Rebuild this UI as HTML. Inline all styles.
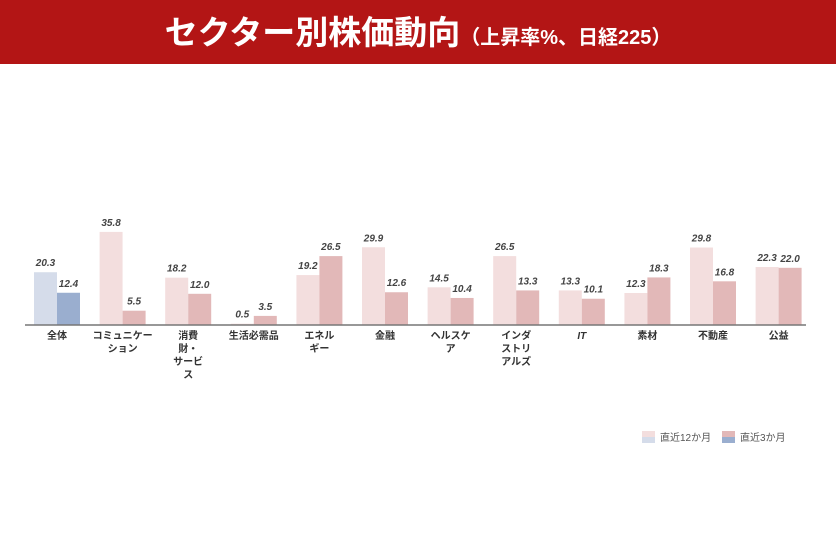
<!DOCTYPE html>
<html><head><meta charset="utf-8"><style>
body{margin:0;width:836px;height:545px;background:#fff;font-family:"Liberation Sans","Noto Sans CJK JP",sans-serif;overflow:hidden}
.hd{position:absolute;left:0;top:0;width:836px;height:64px;background:#b31515;color:#fff;text-align:center;line-height:66px;font-weight:bold;font-size:33px}
.hd small{font-size:20px}
</style></head><body>
<div class="hd">セクター別株価動向<small>（上昇率%、日経225）</small></div>
<svg width="836" height="545" style="position:absolute;left:0;top:0">
<g id="bars" font-family="Liberation Sans, Noto Sans CJK JP, sans-serif"></g>
<line x1="25" y1="325" x2="806" y2="325" stroke="#777" stroke-width="1.5"/>
<rect x="642" y="431" width="13" height="6" fill="#f3dede"/><rect x="642" y="437" width="13" height="6" fill="#d5dcea"/>
<text x="660" y="441" font-size="10" fill="#555">直近12か月</text>
<rect x="722" y="431" width="13" height="6" fill="#e2b8b8"/><rect x="722" y="437" width="13" height="6" fill="#9aaecf"/>
<text x="740" y="441" font-size="10" fill="#555">直近3か月</text>
</svg>
<script>
var d=[["全体",20.3,12.4],["コミュニケー|ション",35.8,5.5],["消費|財・|サービ|ス",18.2,12.0],["生活必需品",0.5,3.5],["エネル|ギー",19.2,26.5],["金融",29.9,12.6],["ヘルスケ|ア",14.5,10.4],["インダ|ストリ|アルズ",26.5,13.3],["IT",13.3,10.1],["素材",12.3,18.3],["不動産",29.8,16.8],["公益",22.3,22.0]];
var s="",k=2.6;
d.forEach(function(r,i){var x=34+65.6*i,c1=i?"#f3dede":"#d5dcea",c2=i?"#e2b8b8":"#9aaecf";
var h1=r[1]*k,h2=r[2]*k;
s+='<rect x="'+x+'" y="'+(325-h1)+'" width="23" height="'+h1+'" fill="'+c1+'"/>';
s+='<rect x="'+(x+23)+'" y="'+(325-h2)+'" width="23" height="'+h2+'" fill="'+c2+'"/>';
s+='<text x="'+(x+11.5)+'" y="'+(325-h1-6)+'" font-size="10" font-weight="bold" font-style="italic" fill="#444" text-anchor="middle">'+r[1].toFixed(1)+'</text>';
s+='<text x="'+(x+34.5)+'" y="'+(325-h2-6)+'" font-size="10" font-weight="bold" font-style="italic" fill="#444" text-anchor="middle">'+r[2].toFixed(1)+'</text>';
r[0].split("|").forEach(function(l,j){s+='<text x="'+(x+23)+'" y="'+(339+j*13)+'" font-size="10" font-weight="bold" fill="#333" text-anchor="middle"'+(l=="IT"?' font-style="italic"':'')+'>'+l+'</text>';});
});
document.getElementById("bars").innerHTML=s;
</script>
</body></html>
